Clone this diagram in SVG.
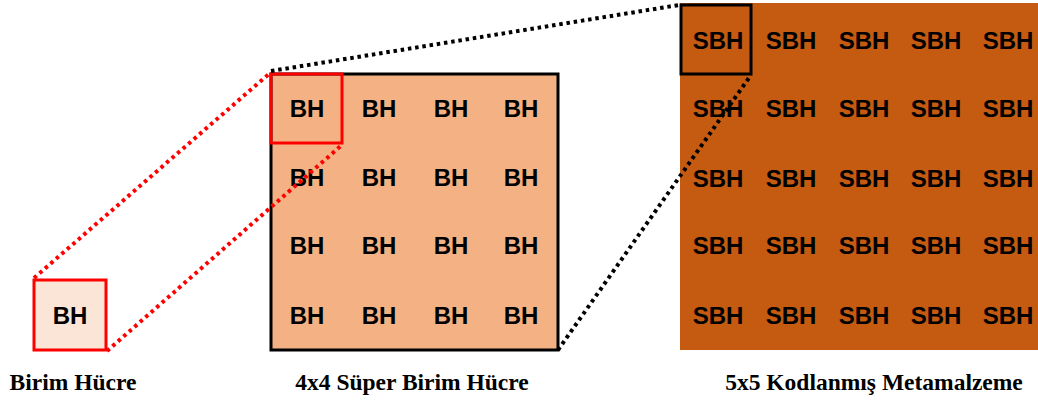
<svg xmlns="http://www.w3.org/2000/svg" width="1038" height="401" viewBox="0 0 1038 401">
  <style>
    .cell { font-family: "Liberation Sans", Arial, sans-serif; font-weight: bold; font-size: 24px; fill: #000; text-anchor: middle; }
    .caption { font-family: "Liberation Serif", "Times New Roman", serif; font-weight: bold; font-size: 23.5px; fill: #000; text-anchor: middle; }
    .dot-red { stroke: #FF0000; stroke-width: 4; stroke-dasharray: 3.5 3.8; fill: none; }
    .dot-black { stroke: #000; stroke-width: 4; stroke-dasharray: 3.5 3.8; fill: none; }
  </style>
  <rect width="1038" height="401" fill="#FFFFFF"/>

  <!-- single unit cell -->
  <g id="unit-cell">
    <rect x="34" y="280" width="72" height="70" fill="#FBE5D6" stroke="#FF0000" stroke-width="3"/>
    <text class="cell" x="70" y="324">BH</text>
  </g>

  <!-- 4x4 super unit cell -->
  <g id="super-cell">
    <rect x="271" y="74" width="287" height="276" fill="#F4B183" stroke="#000" stroke-width="3"/>
    <rect x="271" y="74" width="71" height="69" fill="none" stroke="#FF0000" stroke-width="3"/>
    <g>
      <text class="cell" x="307" y="117">BH</text>
      <text class="cell" x="379" y="117">BH</text>
      <text class="cell" x="451" y="117">BH</text>
      <text class="cell" x="521" y="117">BH</text>
      <text class="cell" x="307" y="186">BH</text>
      <text class="cell" x="379" y="186">BH</text>
      <text class="cell" x="451" y="186">BH</text>
      <text class="cell" x="521" y="186">BH</text>
      <text class="cell" x="307" y="254">BH</text>
      <text class="cell" x="379" y="254">BH</text>
      <text class="cell" x="451" y="254">BH</text>
      <text class="cell" x="521" y="254">BH</text>
      <text class="cell" x="307" y="324">BH</text>
      <text class="cell" x="379" y="324">BH</text>
      <text class="cell" x="451" y="324">BH</text>
      <text class="cell" x="521" y="324">BH</text>
    </g>
  </g>

  <!-- 5x5 coded metamaterial -->
  <g id="metamaterial">
    <rect x="680" y="3" width="358" height="347" fill="#C55A11"/>
    <g>
      <text class="cell" x="718" y="49">SBH</text>
      <text class="cell" x="791" y="49">SBH</text>
      <text class="cell" x="864" y="49">SBH</text>
      <text class="cell" x="936" y="49">SBH</text>
      <text class="cell" x="1008" y="49">SBH</text>
      <text class="cell" x="718" y="117">SBH</text>
      <text class="cell" x="791" y="117">SBH</text>
      <text class="cell" x="864" y="117">SBH</text>
      <text class="cell" x="936" y="117">SBH</text>
      <text class="cell" x="1008" y="117">SBH</text>
      <text class="cell" x="718" y="187">SBH</text>
      <text class="cell" x="791" y="187">SBH</text>
      <text class="cell" x="864" y="187">SBH</text>
      <text class="cell" x="936" y="187">SBH</text>
      <text class="cell" x="1008" y="187">SBH</text>
      <text class="cell" x="718" y="254">SBH</text>
      <text class="cell" x="791" y="254">SBH</text>
      <text class="cell" x="864" y="254">SBH</text>
      <text class="cell" x="936" y="254">SBH</text>
      <text class="cell" x="1008" y="254">SBH</text>
      <text class="cell" x="718" y="324">SBH</text>
      <text class="cell" x="791" y="324">SBH</text>
      <text class="cell" x="864" y="324">SBH</text>
      <text class="cell" x="936" y="324">SBH</text>
      <text class="cell" x="1008" y="324">SBH</text>
    </g>
    <rect x="681" y="5" width="70" height="69" fill="none" stroke="#000" stroke-width="3"/>
  </g>

  <!-- zoom guide lines -->
  <g id="connectors">
    <line class="dot-red" x1="34" y1="278" x2="270" y2="73"/>
    <line class="dot-red" x1="107" y1="351" x2="343" y2="144"/>
    <line class="dot-black" x1="271" y1="71" x2="679" y2="5"/>
    <line class="dot-black" x1="558" y1="350" x2="751" y2="75"/>
  </g>

  <!-- captions -->
  <g id="captions">
    <text class="caption" x="73" y="390">Birim Hücre</text>
    <text class="caption" x="412" y="390">4x4 Süper Birim Hücre</text>
    <text class="caption" x="874" y="390">5x5 Kodlanmış Metamalzeme</text>
  </g>
</svg>
